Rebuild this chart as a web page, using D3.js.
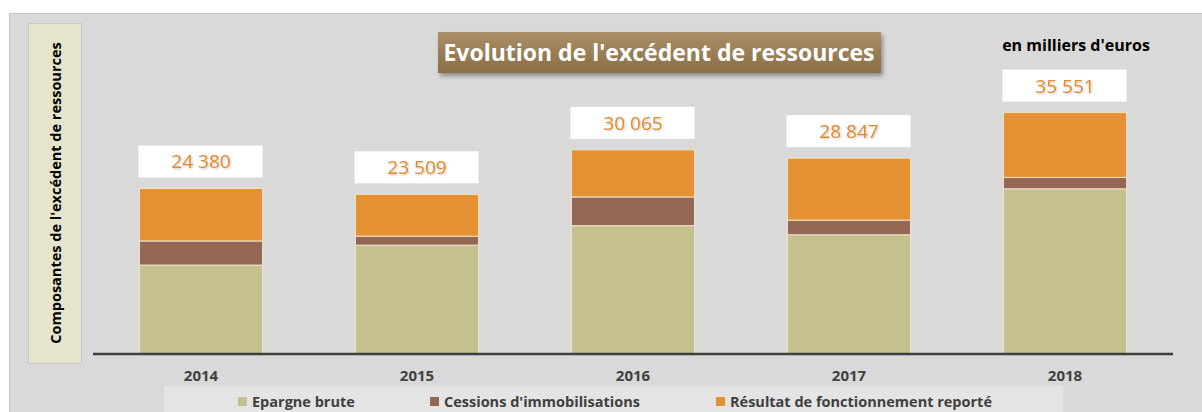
<!DOCTYPE html>
<html>
<head>
<meta charset="utf-8">
<script src="https://cdn.jsdelivr.net/npm/d3@7"></script>
<style>
  body { margin: 0; background: #fff; }
  text { font-family: "Open Sans", "Noto Sans", sans-serif; }
</style>
</head>
<body>
<svg id="chart"></svg>
<script>
// données (en milliers d'euros)
const years = ["2014", "2015", "2016", "2017", "2018"];
const epargne = [13100, 16030, 18900, 17560, 24330];
const cessions = [3550, 1320, 4230, 2160, 1670];
const resultat = [7730, 6159, 6935, 9127, 9551];
const totals = [24380, 23509, 30065, 28847, 35551];
const seriesNames = ["Epargne brute", "Cessions d'immobilisations", "Résultat de fonctionnement reporté"];
const colors = ["#c5c18f", "#936754", "#e59033"];

const W = 1202, H = 412;
const svg = d3.select("#chart").attr("width", W).attr("height", H);

const defs = svg.append("defs");
const grad = defs.append("linearGradient").attr("id", "titleGrad")
  .attr("x1", 0).attr("y1", 0).attr("x2", 0).attr("y2", 1);
grad.append("stop").attr("offset", "0%").attr("stop-color", "#a98e68");
grad.append("stop").attr("offset", "100%").attr("stop-color", "#8a6f44");
const sh = defs.append("filter").attr("id", "shadow")
  .attr("x", "-10%").attr("y", "-30%").attr("width", "120%").attr("height", "160%");
sh.append("feDropShadow").attr("dx", 2).attr("dy", 3).attr("stdDeviation", 2)
  .attr("flood-color", "#000").attr("flood-opacity", 0.35);
const tsh = defs.append("filter").attr("id", "tshadow");
tsh.append("feDropShadow").attr("dx", 1).attr("dy", 1).attr("stdDeviation", 0.8)
  .attr("flood-color", "#000").attr("flood-opacity", 0.25);

// fond gris
svg.append("rect").attr("x", 9.5).attr("y", 13.5).attr("width", W).attr("height", H)
  .attr("fill", "#d9d9d9").attr("stroke", "#c4c4c4");

// échelles
const x = d3.scaleBand().domain(years).range([93, 1173]).paddingInner(0.43).paddingOuter(0.215);
const y = d3.scaleLinear().domain([0, 40000]).range([354, 82.4]);

// titre axe vertical
svg.append("rect").attr("x", 28.5).attr("y", 23.5).attr("width", 53).attr("height", 340)
  .attr("fill", "#e6e4cd").attr("stroke", "#c8c8c8");
svg.append("text")
  .attr("transform", "translate(60.5,193) rotate(-90)")
  .attr("text-anchor", "middle")
  .attr("font-size", 14.5).attr("font-weight", "bold").attr("fill", "#000")
  .text("Composantes de l'excédent de ressources");

// empilement
const table = years.map((yr, i) => ({ year: yr, e: epargne[i], c: cessions[i], r: resultat[i] }));
const stack = d3.stack().keys(["e", "c", "r"])(table);

svg.append("g").selectAll("g")
  .data(stack)
  .join("g")
    .attr("fill", (d, i) => colors[i])
  .selectAll("rect")
  .data(d => d)
  .join("rect")
    .attr("x", d => x(d.data.year))
    .attr("y", d => y(d[1]))
    .attr("width", x.bandwidth())
    .attr("height", d => y(d[0]) - y(d[1]))
    .attr("stroke", "#efe3c6").attr("stroke-width", 1);

// axe horizontal
svg.append("line").attr("x1", 93).attr("x2", 1173).attr("y1", 354).attr("y2", 354)
  .attr("stroke", "#3f3f3f").attr("stroke-width", 2.5);

const xAxis = svg.append("g").attr("transform", "translate(0,354)")
  .call(d3.axisBottom(x).tickSize(0).tickPadding(16));
xAxis.select(".domain").remove();
xAxis.selectAll("text").attr("font-size", 15).attr("font-weight", "bold")
  .attr("fill", "#404040").attr("font-family", "Open Sans, sans-serif");

// étiquettes totaux
const lbl = svg.append("g").selectAll("g").data(years).join("g");
lbl.append("rect")
  .attr("x", d => x(d) - 1)
  .attr("y", (d, i) => y(totals[i]) - 43)
  .attr("width", x.bandwidth() + 1)
  .attr("height", 32)
  .attr("fill", "#fff");
lbl.append("text")
  .attr("x", d => x(d) + x.bandwidth() / 2)
  .attr("y", (d, i) => y(totals[i]) - 20)
  .attr("text-anchor", "middle")
  .attr("font-size", 19).attr("fill", "#e28a2c")
  .attr("filter", "url(#tshadow)")
  .text((d, i) => d3.format(",")(totals[i]).replace(/,/g, " "));

// titre
svg.append("rect").attr("x", 438).attr("y", 32).attr("width", 443).attr("height", 41)
  .attr("fill", "url(#titleGrad)").attr("filter", "url(#shadow)");
svg.append("text").attr("x", 659).attr("y", 61).attr("text-anchor", "middle")
  .attr("font-size", 23).attr("font-weight", "bold").attr("fill", "#fff")
  .text("Evolution de l'excédent de ressources");

svg.append("text").attr("x", 1076).attr("y", 51).attr("text-anchor", "middle")
  .attr("font-size", 16).attr("font-weight", "bold").attr("fill", "#000")
  .text("en milliers d'euros");

// légende
svg.append("rect").attr("x", 164).attr("y", 386).attr("width", 899).attr("height", 30)
  .attr("fill", "#e4e4e4");
const legX = [238, 430, 716];
const leg = svg.append("g").selectAll("g").data(seriesNames).join("g")
  .attr("transform", (d, i) => `translate(${legX[i]},397)`);
leg.append("rect").attr("width", 9).attr("height", 9).attr("fill", (d, i) => colors[i]);
leg.append("text").attr("x", 14).attr("y", 10)
  .attr("font-size", 14.5).attr("font-weight", "bold").attr("fill", "#404040")
  .text(d => d);
</script>
</body>
</html>
